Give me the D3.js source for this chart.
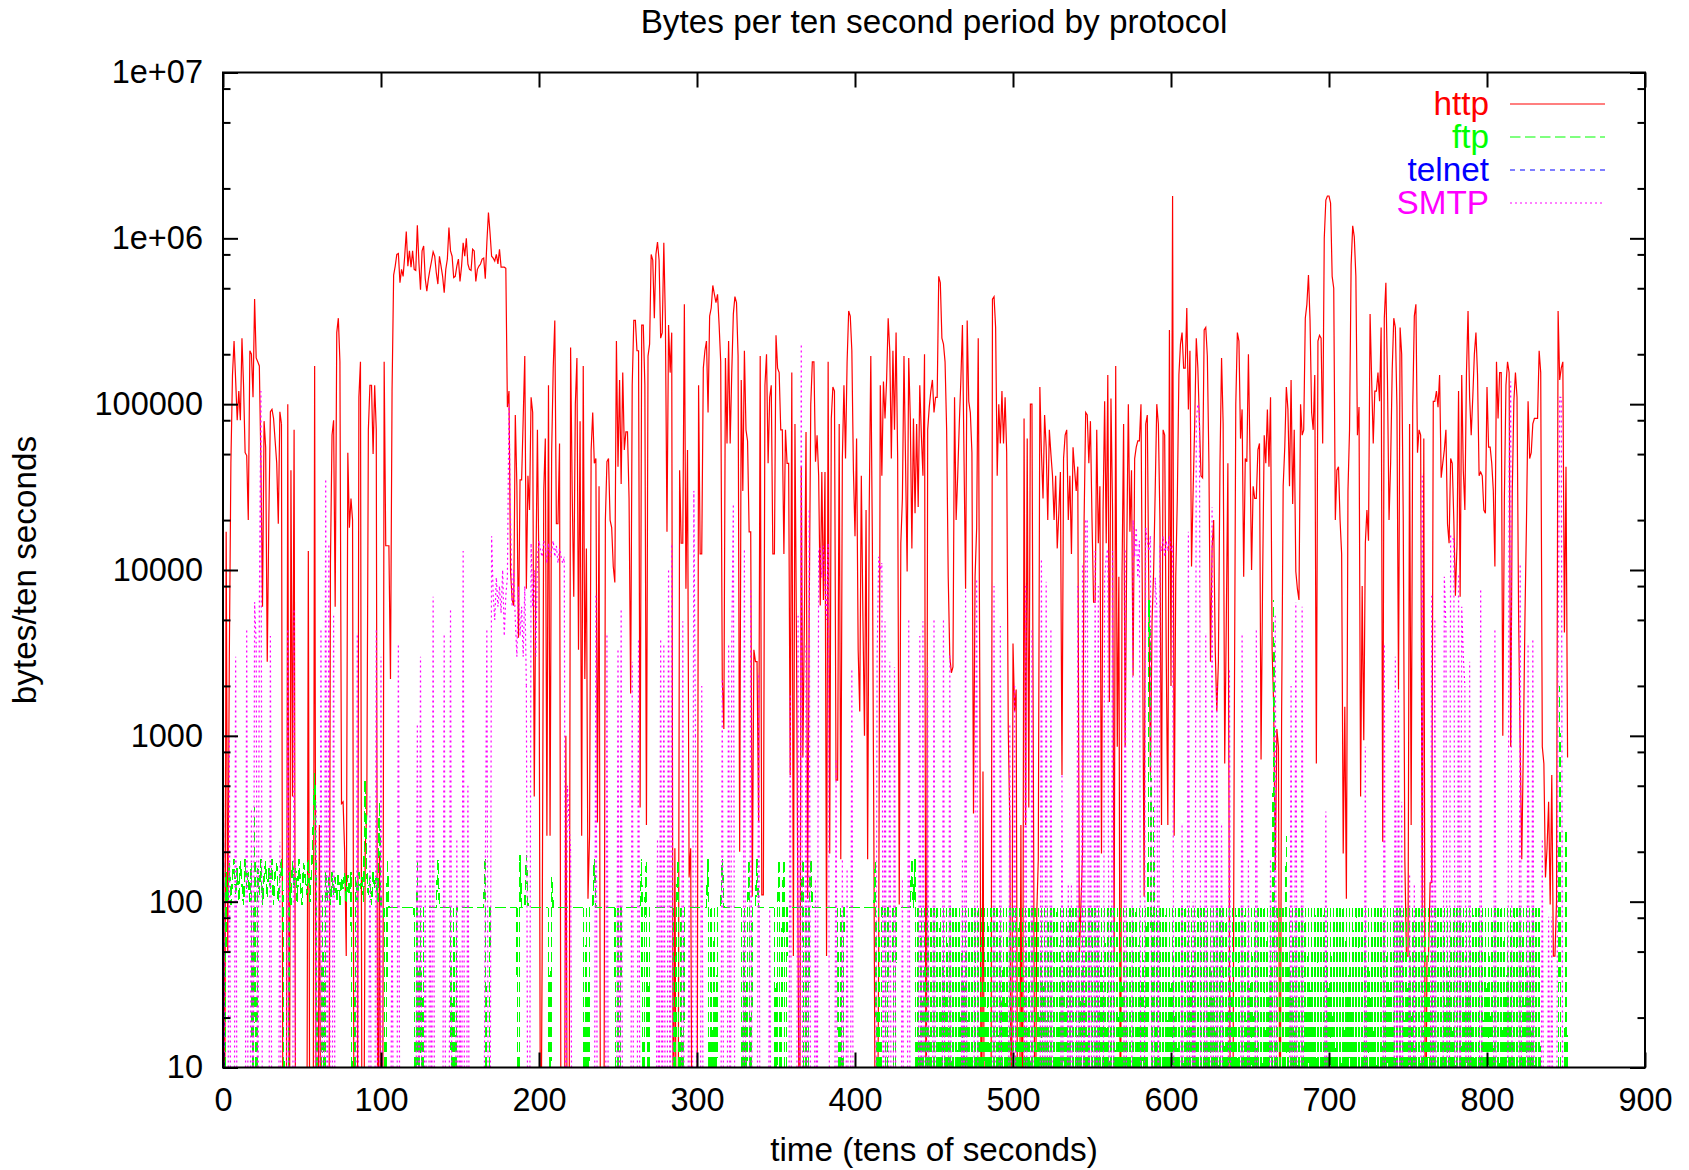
<!DOCTYPE html>
<html>
<head>
<meta charset="utf-8">
<script src="https://cdn.jsdelivr.net/npm/d3@7"></script>
<style>
  html, body { margin: 0; padding: 0; background: #fff; }
  svg { display: block; }
</style>
</head>
<body>
<svg id="chart" width="1689" height="1170"></svg>
<script>
// Bytes per ten-second period, one value per period (index = time in tens of seconds).
// Values below the axis floor (10) are stored as 1.
const httpBytes = [
  /*   0 */ 8e3, 1, 1.7e4, 50, 3e3, 4.4e4, 1.5e5, 2.4e5, 1.4e5, 8e4,
  /*  10 */ 1.2e5, 8e4, 2.5e5, 1.3e5, 5.1e4, 4.9e4, 2e4, 2.1e5, 2e5, 1.1e5,
  /*  20 */ 4.3e5, 1.9e5, 1.8e5, 1.7e5, 4.4e4, 6e3, 7.9e4, 5.5e4, 2.8e3, 2e4,
  /*  30 */ 9e4, 9.3e4, 8.2e4, 6e4, 4.4e4, 1.9e4, 9e4, 7.6e4, 1, 1,
  /*  40 */ 1, 1e5, 1, 4e4, 430, 7e4, 1, 1, 1, 1,
  /*  50 */ 1, 1, 1, 1, 1.3e4, 1, 1, 1, 1.7e5, 1,
  /*  60 */ 1, 290, 1, 1, 1, 1, 1, 1, 1.1e4, 6.5e4,
  /*  70 */ 8e4, 6e3, 2.7e5, 3.3e5, 1.8e5, 390, 400, 200, 47, 5.1e4,
  /*  80 */ 1.8e4, 2.7e4, 2e4, 1, 1, 1, 1.1e5, 1.8e5, 1, 1,
  /*  90 */ 210, 340, 7e4, 1.3e5, 1.3e5, 5e4, 1.3e5, 7e4, 1, 195,
  /* 100 */ 1, 1, 1.8e5, 1.4e4, 1.4e4, 1.4e4, 2.2e3, 1.2e5, 6e5, 6.8e5,
  /* 110 */ 8e5, 8.1e5, 5.4e5, 6.5e5, 5.9e5, 7.8e5, 1.1e6, 6.8e5, 8.4e5, 6.7e5,
  /* 120 */ 8.4e5, 6.5e5, 6.4e5, 1.2e6, 7.1e5, 4.9e5, 8.4e5, 9e5, 5.7e5, 4.8e5,
  /* 130 */ 5.7e5, 6.5e5, 7.3e5, 8.3e5, 7.8e5, 6.2e5, 5.3e5, 7.8e5, 6.8e5, 5.9e5,
  /* 140 */ 4.7e5, 6.5e5, 7.5e5, 1.16e6, 8.4e5, 7.8e5, 5.8e5, 5.9e5, 6.8e5, 7.5e5,
  /* 150 */ 5.5e5, 6.8e5, 9.4e5, 7.8e5, 1e6, 7e5, 6.5e5, 6.4e5, 8.6e5, 8.4e5,
  /* 160 */ 5.5e5, 6.5e5, 6.8e5, 7e5, 7.5e5, 7.6e5, 5.7e5, 9.4e5, 1.43e6, 1.08e6,
  /* 170 */ 7.8e5, 7.6e5, 7.3e5, 8e5, 7e5, 8.6e5, 6.7e5, 6.7e5, 6.7e5, 6.6e5,
  /* 180 */ 9.6e4, 1.2e5, 9.8e3, 6.6e3, 6.1e3, 8.6e4, 3.2e4, 3.9e3, 3.5e4, 3.5e4,
  /* 190 */ 8.2e4, 1.95e5, 7.7e3, 3.7e4, 2.3e4, 1.1e5, 8.9e4, 430, 9e3, 7e4,
  /* 200 */ 9e3, 1, 47, 3e4, 6.2e4, 250, 1.3e5, 250, 5.1e4, 1.65e5,
  /* 210 */ 3.2e5, 1.9e4, 1.9e4, 5.8e4, 1, 1, 1, 1e3, 1, 1,
  /* 220 */ 2.2e5, 3e4, 6.9e3, 1e5, 1.9e5, 3.3e3, 7.9e4, 250, 1.7e5, 2.2e3,
  /* 230 */ 1.35e4, 104, 250, 5.3e4, 8.9e4, 4.4e4, 4.7e4, 300, 3.2e4, 1,
  /* 240 */ 1, 1, 2e4, 4.5e4, 4.7e4, 2e4, 1.8e4, 1.05e4, 8.4e3, 2.4e5,
  /* 250 */ 4.2e4, 1.4e5, 3.3e4, 1.55e5, 5.3e4, 6.8e4, 6.8e4, 2.7e4, 1.8e3, 1.3e5,
  /* 260 */ 3.2e5, 3.2e5, 2.1e5, 2.1e5, 370, 3e5, 3e5, 1.3e5, 290, 1.95e5,
  /* 270 */ 2.3e5, 8e5, 7.4e5, 3.3e5, 8e5, 9.5e5, 7.4e5, 2.5e5, 2.7e5, 9.4e5,
  /* 280 */ 3.2e5, 1.7e4, 3e5, 1.55e5, 2.7e5, 1, 210, 1, 1, 4e4,
  /* 290 */ 1.45e4, 1.45e4, 4e5, 7.7e3, 5.3e4, 140, 210, 1, 1, 1,
  /* 300 */ 1, 1.3e5, 1.25e4, 1.25e4, 1.65e5, 2.1e5, 2.4e5, 8.9e4, 3.4e5, 3.8e5,
  /* 310 */ 5.2e5, 4.6e5, 4.1e5, 4.6e5, 3e5, 1.8e5, 2.2e3, 1.1e3, 1.9e5, 5.8e4,
  /* 320 */ 2.4e5, 5.8e4, 1.55e5, 3.5e5, 4.45e5, 4.1e5, 1.95e5, 200, 1.4e5, 3e4,
  /* 330 */ 2.1e5, 7e4, 6e4, 1.7e4, 1.7e4, 107, 3.3e3, 2.8e3, 2.8e3, 300,
  /* 340 */ 1.95e5, 110, 110, 1.3e5, 2e5, 4.4e4, 1.1e5, 1.3e5, 1.25e4, 1.25e4,
  /* 350 */ 2.6e5, 1.65e5, 1.55e5, 7e4, 7e4, 1.25e4, 7e4, 4.4e4, 4.4e4, 580,
  /* 360 */ 1.55e5, 47, 7.6e4, 3.3e3, 47, 1, 4.2e4, 740, 5.3e3, 6.8e4,
  /* 370 */ 104, 5.3e3, 1e5, 1.8e5, 1.8e5, 4.5e4, 6.5e4, 3.7e4, 6.1e3, 3.9e4,
  /* 380 */ 6.6e3, 3.9e4, 47, 1.8e5, 195, 8.2e4, 1.27e5, 1.2e5, 540, 540,
  /* 390 */ 7.6e4, 180, 4.7e4, 1.3e5, 4.7e4, 1.8e5, 3.65e5, 3.4e5, 2.1e5, 4e4,
  /* 400 */ 1.6e4, 6.2e4, 3.3e3, 1.4e3, 3.7e4, 5.3e3, 1e3, 2.3e4, 180, 2.3e4,
  /* 410 */ 1.95e5, 1.45e4, 180, 1, 1, 50, 1.3e5, 3.7e4, 1.37e5, 8.2e4,
  /* 420 */ 1.4e5, 3.3e5, 2.1e5, 4.7e4, 2.1e5, 7e4, 2.7e5, 4.7e4, 96, 1.45e4,
  /* 430 */ 2.7e4, 1.95e5, 4.4e4, 9.8e3, 1.9e5, 8.2e4, 1.35e4, 8.2e4, 2.2e4, 7.6e4,
  /* 440 */ 2.4e4, 1.3e5, 6.5e4, 3.7e4, 2e5, 1, 7e4, 9.6e4, 1.2e5, 1.4e5,
  /* 450 */ 8.9e4, 1.1e5, 1.1e5, 5.9e5, 5.4e5, 2.5e5, 2.3e5, 1.8e5, 7e4, 9.1e3,
  /* 460 */ 3e3, 2.4e3, 2.6e3, 1.1e5, 2e4, 3.7e4, 7.6e4, 1.4e5, 3e5, 4.7e4,
  /* 470 */ 7.7e3, 3.2e5, 1.04e5, 8.9e4, 5.1e4, 340, 9.1e3, 1.8e4, 2.5e5, 1.9e3,
  /* 480 */ 1, 610, 1, 1, 1, 1, 1, 4.3e5, 4.45e5, 2.9e5,
  /* 490 */ 3.7e4, 1e5, 5.8e4, 1.2e5, 5.8e4, 1.1e5, 5.1e4, 1.1e3, 290, 1,
  /* 500 */ 3.6e3, 1.4e3, 1.9e3, 1, 1, 290, 1, 8.2e4, 290, 6.2e4,
  /* 510 */ 370, 1e5, 1e5, 340, 1, 81, 180, 1.27e5, 5.1e4, 2.7e4,
  /* 520 */ 8.6e4, 5.5e4, 2e4, 7e4, 5e4, 3.7e4, 2e4, 3.7e4, 1.35e4, 2.2e4,
  /* 530 */ 3.9e4, 580, 4.7e4, 6.5e4, 7e4, 2e4, 3.7e4, 1.25e4, 5.5e4, 4e4,
  /* 540 */ 3e4, 4.2e4, 47, 96, 195, 2e4, 8.9e4, 8.6e4, 4.4e4, 7.9e4,
  /* 550 */ 2e4, 6.4e3, 6.4e3, 7e4, 1.45e4, 3.2e4, 195, 2.3e4, 1.04e5, 1.45e4,
  /* 560 */ 1.5e5, 1.6e3, 1.08e5, 2.3e4, 47, 1.7e5, 860, 9.1e3, 1, 9.1e3,
  /* 570 */ 7.6e4, 860, 1.35e4, 1e5, 1.7e4, 4e4, 2.3e3, 4.7e4, 5.5e4, 6e4,
  /* 580 */ 6e4, 1e5, 4.2e3, 107, 7.6e4, 8.6e4, 6.6e3, 580, 4.9e3, 9.8e3,
  /* 590 */ 3e4, 1e5, 7.6e4, 2e4, 290, 7e4, 6.5e4, 3e3, 290, 2.8e5,
  /* 600 */ 2e3, 1.8e6, 250, 9.1e3, 2.7e4, 1.5e5, 2.3e5, 2.7e5, 1.65e5, 1.65e5,
  /* 610 */ 3.8e5, 9.3e4, 2.1e5, 1.05e4, 3e4, 7.6e4, 2.5e5, 1.65e5, 7.6e4, 3.7e4,
  /* 620 */ 3.6e4, 2.8e5, 2.9e5, 1.95e5, 4.4e4, 2.8e3, 1.35e4, 2e4, 3.3e3, 1.4e3,
  /* 630 */ 2.8e3, 4.4e4, 1.9e5, 7.6e4, 680, 4.9e3, 4.4e4, 47, 1, 1,
  /* 640 */ 860, 1e5, 2.7e5, 2.4e5, 6.2e4, 9.3e4, 9.1e3, 4.7e4, 4.5e4, 2e5,
  /* 650 */ 4.9e4, 1e4, 3.2e4, 2.7e4, 2.7e4, 5.3e4, 5.8e4, 720, 9.1e3, 6.5e4,
  /* 660 */ 4.4e4, 9.3e4, 4.2e4, 1.1e5, 3.3e3, 1.5e3, 155, 1.1e3, 860, 1,
  /* 670 */ 1.3e3, 3.2e4, 5.5e4, 1.27e5, 9.3e4, 3.2e4, 1.4e5, 2.5e4, 7e4, 9.8e3,
  /* 680 */ 7.7e3, 6.6e3, 1e5, 6.5e4, 7e4, 3.3e5, 4e5, 6e5, 3.2e5, 8.9e4,
  /* 690 */ 7e4, 1.5e5, 680, 2.4e5, 2.6e5, 2.5e5, 5.8e4, 1e6, 1.7e6, 1.8e6,
  /* 700 */ 1.8e6, 1.63e6, 5.9e5, 5e5, 2e4, 4e4, 4.2e4, 2e4, 1.25e4, 195,
  /* 710 */ 1.5e3, 104, 3e4, 7e4, 6.9e5, 1.19e6, 1.02e6, 5.9e5, 6.5e4, 9.6e4,
  /* 720 */ 430, 8e3, 940, 1.45e4, 2.3e4, 1.5e4, 3.5e5, 1.4e5, 5.8e4, 1.2e5,
  /* 730 */ 1.2e5, 1.55e5, 1.04e5, 2.9e5, 230, 3.3e5, 5.4e5, 1.4e5, 2e4, 4.4e4,
  /* 740 */ 1.6e5, 3.3e5, 2.9e5, 9.6e4, 1.9e3, 2.9e5, 2e5, 2e4, 180, 47,
  /* 750 */ 47, 7.6e4, 290, 9.6e4, 3.4e5, 4e5, 5.1e4, 7e4, 6.5e4, 90,
  /* 760 */ 6.2e4, 1, 47, 47, 130, 130, 1.04e5, 1.04e5, 1.2e5, 9.6e4,
  /* 770 */ 1.5e5, 3.6e4, 4.4e4, 5.3e4, 7e4, 1.9e4, 1.45e4, 4.7e4, 4.4e4, 2e4,
  /* 780 */ 7e3, 1.4e4, 1.2e5, 6.9e3, 1.5e5, 4e4, 2.3e4, 1.55e5, 3.65e5, 1.1e5,
  /* 790 */ 6.5e4, 1.1e5, 2e5, 2.7e5, 1.5e5, 3.7e4, 3.9e4, 3.7e4, 2.3e4, 2.2e4,
  /* 800 */ 1.27e5, 5.5e4, 5.5e4, 4.4e4, 3e4, 1.05e4, 1.8e5, 8.2e4, 1.55e5, 1.55e5,
  /* 810 */ 1e3, 2.7e4, 1.3e5, 1.8e5, 1.55e5, 860, 3e4, 1.04e5, 1.55e5, 1.1e5,
  /* 820 */ 5.3e3, 860, 180, 860, 5e3, 2e4, 1.04e5, 4.7e4, 5.1e4, 7.6e4,
  /* 830 */ 8.2e4, 8.2e4, 8.2e4, 2.1e5, 1.55e5, 860, 680, 140, 210, 400,
  /* 840 */ 96, 580, 47, 47, 100, 3.65e5, 1.4e5, 1.65e5, 1.8e5, 4.2e3,
  /* 850 */ 4.2e4, 740
];

const ftpBytes = [
  /*   0 */ 1, 1, 150, 100, 170, 95, 140, 180, 110, 160,
  /*  10 */ 100, 175, 130, 95, 180, 120, 150, 100, 170, 1,
  /*  20 */ 370, 1, 160, 110, 180, 95, 140, 175, 105, 160,
  /*  30 */ 120, 180, 95, 150, 170, 100, 140, 180, 110, 1,
  /*  40 */ 1, 1, 150, 95, 175, 120, 160, 100, 180, 130,
  /*  50 */ 95, 170, 140, 110, 180, 100, 150, 260, 600, 130,
  /*  60 */ 1, 1, 1, 110, 1, 150, 100, 140, 95, 150,
  /*  70 */ 110, 140, 100, 150, 95, 140, 120, 150, 100, 145,
  /*  80 */ 110, 150, 1, 1, 140, 100, 150, 120, 140, 100,
  /*  90 */ 540, 150, 110, 140, 95, 150, 120, 140, 100, 400,
  /* 100 */ 92, 92, 92, 1, 180, 92, 92, 92, 92, 92,
  /* 110 */ 92, 92, 92, 92, 92, 92, 92, 92, 92, 92,
  /* 120 */ 92, 92, 1, 180, 1, 92, 1, 92, 92, 92,
  /* 130 */ 92, 92, 92, 92, 92, 92, 180, 92, 92, 92,
  /* 140 */ 92, 92, 92, 92, 92, 1, 92, 1, 92, 92,
  /* 150 */ 92, 92, 92, 92, 92, 92, 92, 92, 92, 92,
  /* 160 */ 92, 92, 92, 92, 92, 92, 180, 1, 1, 92,
  /* 170 */ 92, 92, 92, 92, 92, 92, 92, 92, 92, 92,
  /* 180 */ 92, 92, 92, 92, 92, 92, 92, 1, 190, 92,
  /* 190 */ 92, 92, 190, 92, 92, 92, 92, 92, 92, 92,
  /* 200 */ 92, 92, 92, 92, 92, 92, 92, 1, 140, 92,
  /* 210 */ 92, 92, 92, 92, 92, 92, 92, 92, 92, 92,
  /* 220 */ 92, 92, 92, 92, 92, 92, 92, 92, 92, 1,
  /* 230 */ 92, 1, 92, 92, 92, 180, 92, 92, 92, 92,
  /* 240 */ 92, 92, 92, 92, 92, 92, 92, 92, 92, 1,
  /* 250 */ 92, 1, 92, 92, 92, 92, 92, 92, 92, 92,
  /* 260 */ 92, 92, 92, 92, 92, 180, 1, 92, 180, 1,
  /* 270 */ 92, 92, 92, 92, 92, 92, 92, 92, 92, 92,
  /* 280 */ 92, 92, 92, 92, 92, 92, 1, 92, 180, 1,
  /* 290 */ 92, 1, 92, 92, 92, 92, 92, 92, 92, 92,
  /* 300 */ 92, 92, 92, 92, 92, 92, 92, 180, 1, 92,
  /* 310 */ 1, 92, 1, 92, 92, 92, 180, 92, 92, 92,
  /* 320 */ 92, 92, 92, 92, 92, 92, 92, 92, 92, 1,
  /* 330 */ 92, 1, 92, 180, 1, 92, 92, 92, 180, 92,
  /* 340 */ 92, 92, 92, 92, 92, 92, 92, 92, 92, 92,
  /* 350 */ 1, 92, 180, 1, 92, 180, 1, 92, 92, 92,
  /* 360 */ 92, 92, 92, 92, 92, 92, 92, 180, 1, 92,
  /* 370 */ 1, 92, 180, 92, 92, 92, 92, 92, 92, 92,
  /* 380 */ 92, 92, 92, 92, 92, 92, 92, 92, 92, 92,
  /* 390 */ 1, 92, 1, 92, 92, 92, 92, 92, 92, 92,
  /* 400 */ 92, 92, 92, 92, 92, 92, 92, 92, 92, 92,
  /* 410 */ 92, 92, 92, 180, 1, 92, 1, 92, 92, 92,
  /* 420 */ 1, 92, 92, 92, 92, 1, 92, 92, 92, 92,
  /* 430 */ 92, 92, 92, 92, 92, 92, 180, 92, 180, 1,
  /* 440 */ 92, 1, 92, 1, 92, 1, 92, 1, 92, 1,
  /* 450 */ 92, 1, 92, 1, 92, 1, 92, 1, 92, 1,
  /* 460 */ 92, 1, 92, 1, 92, 1, 92, 1, 92, 1,
  /* 470 */ 92, 1, 92, 1, 92, 1, 92, 1, 92, 1,
  /* 480 */ 92, 1, 92, 1, 92, 1, 92, 1, 92, 1,
  /* 490 */ 92, 1, 92, 1, 92, 1, 92, 1, 92, 1,
  /* 500 */ 92, 1, 92, 1, 92, 1, 92, 1, 92, 1,
  /* 510 */ 92, 1, 92, 1, 92, 1, 92, 1, 92, 1,
  /* 520 */ 92, 1, 92, 1, 92, 1, 92, 1, 92, 1,
  /* 530 */ 92, 1, 92, 1, 92, 1, 92, 1, 92, 1,
  /* 540 */ 92, 1, 92, 1, 92, 1, 92, 1, 92, 1,
  /* 550 */ 92, 1, 92, 1, 92, 1, 92, 1, 92, 1,
  /* 560 */ 92, 1, 92, 1, 92, 1, 92, 1, 92, 1,
  /* 570 */ 92, 1, 92, 1, 92, 1, 92, 1, 92, 1,
  /* 580 */ 92, 1, 92, 1, 92, 1, 6.6e3, 3.3e3, 1, 370,
  /* 590 */ 1, 92, 1, 92, 1, 92, 1, 92, 1, 92,
  /* 600 */ 1, 92, 1, 92, 1, 92, 1, 92, 1, 92,
  /* 610 */ 1, 92, 1, 92, 1, 92, 1, 92, 1, 92,
  /* 620 */ 1, 92, 1, 92, 1, 92, 1, 92, 1, 92,
  /* 630 */ 1, 92, 1, 92, 1, 92, 1, 92, 1, 92,
  /* 640 */ 1, 92, 1, 92, 1, 92, 1, 92, 1, 92,
  /* 650 */ 1, 92, 1, 92, 1, 92, 1, 92, 1, 92,
  /* 660 */ 1, 92, 1, 92, 1, 6.6e3, 1, 92, 1, 92,
  /* 670 */ 1, 92, 1, 250, 1, 92, 1, 92, 1, 92,
  /* 680 */ 1, 92, 1, 92, 1, 92, 1, 92, 1, 92,
  /* 690 */ 1, 92, 1, 92, 1, 92, 1, 92, 1, 92,
  /* 700 */ 1, 92, 1, 92, 1, 92, 1, 92, 1, 92,
  /* 710 */ 1, 92, 1, 92, 1, 92, 1, 92, 1, 92,
  /* 720 */ 1, 92, 1, 92, 1, 92, 1, 92, 1, 92,
  /* 730 */ 1, 92, 1, 92, 1, 92, 1, 92, 1, 92,
  /* 740 */ 1, 92, 1, 92, 1, 92, 1, 92, 1, 92,
  /* 750 */ 1, 92, 1, 92, 1, 92, 1, 92, 1, 92,
  /* 760 */ 1, 92, 1, 92, 1, 92, 1, 92, 1, 92,
  /* 770 */ 1, 92, 1, 92, 1, 92, 1, 92, 1, 92,
  /* 780 */ 1, 92, 1, 92, 1, 92, 1, 92, 1, 92,
  /* 790 */ 1, 92, 1, 92, 1, 92, 1, 92, 1, 92,
  /* 800 */ 1, 92, 1, 92, 1, 92, 1, 92, 1, 92,
  /* 810 */ 1, 92, 1, 92, 1, 92, 1, 92, 1, 92,
  /* 820 */ 1, 92, 1, 92, 1, 92, 1, 92, 1, 92,
  /* 830 */ 1, 92, 1, 92, 1, 1, 1, 1, 1, 1,
  /* 840 */ 1, 1, 1, 1, 1, 1, 2e3, 1, 1, 1,
  /* 850 */ 280, 1, 1
];

const telnetBytes = [4200, 1];

const smtpBytes = [
  /*   0 */ 6e3, 1, 1, 1, 1e3, 1, 1, 1, 3e3, 1,
  /*  10 */ 1, 1, 1, 1, 1, 4.5e3, 1, 1, 370, 1,
  /*  20 */ 6.4e3, 3.6e3, 1, 6e3, 1.2e5, 1, 1, 1, 1, 1,
  /*  30 */ 4e3, 1, 1, 1, 1, 1, 230, 1, 1, 1,
  /*  40 */ 1, 4.5e3, 1, 1, 1, 5.7e3, 1, 1, 1, 1,
  /*  50 */ 1, 1, 1, 1, 1, 1, 1, 1, 1, 400,
  /*  60 */ 1, 1, 4.5e3, 1, 1, 3.6e4, 1, 1.45e4, 1, 1,
  /*  70 */ 5.3e3, 1, 1, 1, 1, 1, 1, 1, 1, 1,
  /*  80 */ 1, 1, 1, 1, 1, 4.2e3, 1, 1, 1, 1,
  /*  90 */ 1, 1, 1, 430, 1, 1, 1, 4.5e3, 1, 1,
  /* 100 */ 3e3, 1, 1, 1, 1, 1, 1, 180, 1, 1,
  /* 110 */ 1, 3.6e3, 1, 1, 1, 1, 1, 1, 1, 1,
  /* 120 */ 1, 1, 1, 1.2e3, 1, 3e3, 1, 1, 130, 1,
  /* 130 */ 1, 370, 1, 6.9e3, 1, 1, 1, 1, 1, 1,
  /* 140 */ 4.2e3, 1, 1, 1, 5.7e3, 1, 1, 1, 240, 1,
  /* 150 */ 50, 1, 1.3e4, 1, 1, 500, 1, 1, 1, 1,
  /* 160 */ 1, 1, 1, 1, 1, 1, 130, 4.5e3, 1, 1,
  /* 170 */ 1.6e4, 7e3, 5e3, 9e3, 6e3, 8e3, 5.5e3, 1e4, 4e3, 7e3,
  /* 180 */ 9e3, 1e5, 2e4, 6e3, 1e4, 5e3, 3e3, 8e3, 4e3, 6e3,
  /* 190 */ 3e3, 8e3, 2e3, 1, 1, 1.45e4, 6e3, 1e4, 3e3, 1.2e4,
  /* 200 */ 1.5e4, 1.3e4, 1.2e4, 1.5e4, 1.4e4, 1.1e4, 1.45e4, 1.2e4, 1.3e4, 1.5e4,
  /* 210 */ 1.2e4, 1.4e4, 1.1e4, 1.35e4, 1.2e4, 1.1e4, 1.2e4, 1, 500, 300,
  /* 220 */ 200, 1, 1, 1, 1, 1, 1, 1, 1, 1,
  /* 230 */ 1, 1, 1, 1, 1, 1, 7e3, 1, 1, 1,
  /* 240 */ 1, 1, 1, 4.2e3, 1, 1, 1, 1, 1, 1,
  /* 250 */ 3.3e3, 1, 5.7e3, 1, 1, 1, 1, 1, 1, 2.8e3,
  /* 260 */ 1, 1, 1, 3.9e3, 1, 1, 1, 1, 1, 1,
  /* 270 */ 1, 1, 1, 1, 1, 240, 1, 3.9e3, 1, 3.6e3,
  /* 280 */ 1, 1, 1e4, 1, 1.45e4, 1, 1, 1, 1, 1,
  /* 290 */ 1, 4.9e3, 1, 1, 1, 140, 1, 1, 3e4, 1e3,
  /* 300 */ 1, 1, 1, 2e3, 1, 1, 1, 1, 1, 1,
  /* 310 */ 1, 1, 1, 1, 1, 1, 2.2e3, 1, 1, 1,
  /* 320 */ 3.6e3, 1, 3.6e3, 2.5e4, 1, 1, 1, 1, 1, 1,
  /* 330 */ 1.35e4, 1, 1, 1, 7.7e3, 1, 1, 1, 1, 2.4e3,
  /* 340 */ 1, 1, 1, 1, 1, 1, 90, 1, 1, 1,
  /* 350 */ 1, 1, 1, 1, 1, 1, 1, 1, 1, 1.8e3,
  /* 360 */ 1, 1, 1, 1, 5.3e3, 1, 2.3e5, 1, 1, 3.6e3,
  /* 370 */ 1, 2.3e4, 1, 1, 1, 140, 1, 1.35e4, 1.35e4, 9e3,
  /* 380 */ 1.4e4, 8e3, 5e3, 1.45e4, 1, 1, 1, 1, 740, 1,
  /* 390 */ 1, 1, 180, 1, 1, 160, 1, 1, 2.5e3, 1,
  /* 400 */ 1, 1, 1, 1, 1, 1, 1, 1, 1, 1,
  /* 410 */ 1, 1, 1, 1, 3e3, 1.2e4, 1e4, 1.1e4, 1, 4.9e3,
  /* 420 */ 1, 1, 2.8e3, 1, 1, 2.6e3, 1, 1, 1, 1,
  /* 430 */ 140, 1, 1, 1, 5e3, 1, 1, 1, 1, 1,
  /* 440 */ 1, 4e3, 1, 4.9e3, 1, 1, 2.6e3, 1, 1, 1,
  /* 450 */ 5e3, 1, 1, 1, 1, 1, 5e3, 1, 1, 1,
  /* 460 */ 3.1e3, 1, 1, 1, 1, 1, 1, 1, 180, 1,
  /* 470 */ 7.7e3, 1, 1, 1, 1, 1, 300, 9e3, 1, 1,
  /* 480 */ 1, 1, 1, 1, 1, 1, 1, 1, 8e3, 1,
  /* 490 */ 1, 1, 4.6e3, 1, 1, 1, 1, 1, 1.2e3, 1,
  /* 500 */ 1, 2e3, 1, 1, 1, 1, 1, 1, 8e3, 1,
  /* 510 */ 1, 1, 4.5e3, 1, 1, 1, 1, 1, 1.15e4, 1,
  /* 520 */ 1, 8.5e3, 1, 1, 4.5e3, 1, 1, 1, 1, 1,
  /* 530 */ 1, 600, 1, 1, 1, 130, 1, 130, 1, 1,
  /* 540 */ 1, 8e3, 1, 1, 1.1e4, 1, 2e4, 2e4, 1, 1.4e3,
  /* 550 */ 1, 1, 1.3e4, 1, 8e3, 1, 1, 1, 9e3, 1.2e4,
  /* 560 */ 1.35e4, 1, 1, 1.3e4, 1, 1, 1, 1, 1, 1,
  /* 570 */ 1, 1.35e4, 1, 1, 1, 1, 2e4, 1.2e4, 1.8e4, 9e3,
  /* 580 */ 1.5e4, 1, 1, 1, 1.8e4, 1.5e4, 1.3e4, 1.6e4, 1, 1,
  /* 590 */ 9e3, 6e3, 1, 1.4e4, 1.3e4, 1.6e4, 1.2e4, 1.5e4, 1.3e4, 1.6e4,
  /* 600 */ 1.3e4, 1.4e4, 1, 1, 1, 1, 1, 300, 1, 1,
  /* 610 */ 1, 1.7e4, 1, 1, 100, 1, 8e4, 1e5, 9e4, 1,
  /* 620 */ 1, 1, 4.2e3, 1, 1, 1, 2.4e4, 1, 1, 2e3,
  /* 630 */ 1, 1, 300, 1, 1, 1, 1, 2.5e3, 1, 1,
  /* 640 */ 1, 1, 1, 1, 1, 4.2e3, 1, 1, 1, 180,
  /* 650 */ 1, 1, 1, 1, 4.5e3, 1, 1, 1, 1, 1,
  /* 660 */ 1, 1, 1, 180, 1, 1, 5.3e3, 1, 1, 1,
  /* 670 */ 1, 1, 1, 1, 1, 1, 2e3, 1, 1, 6.4e3,
  /* 680 */ 1, 1, 1, 6e3, 1, 1, 1, 1, 1, 1,
  /* 690 */ 1, 1, 1, 1, 1, 1, 1, 1, 350, 1,
  /* 700 */ 1, 1, 1, 1, 1, 1, 1, 1, 1, 1,
  /* 710 */ 1, 1, 1, 1, 1, 1, 1, 1, 1, 1,
  /* 720 */ 1, 1, 1, 860, 1, 1, 1, 1, 1, 1,
  /* 730 */ 1, 1, 1, 1, 1, 3.6e3, 1, 1, 1, 1,
  /* 740 */ 1, 1, 3e3, 1, 1.9e3, 1, 400, 1, 1, 1,
  /* 750 */ 1, 150, 1, 1, 130, 1, 1, 1, 1, 3.7e4,
  /* 760 */ 1, 1, 1, 1, 1, 7e3, 1, 5e3, 1, 1,
  /* 770 */ 1, 1, 1, 9.1e3, 4.5e3, 1, 1, 1.6e4, 1.6e4, 1.5e4,
  /* 780 */ 1, 1, 9.5e3, 1, 6e3, 3e3, 2e3, 1, 1, 2.8e3,
  /* 790 */ 1, 1, 1, 1, 1, 1, 7.7e3, 1, 1, 1,
  /* 800 */ 1, 1, 1, 1, 1, 4.5e3, 1, 1, 1, 1,
  /* 810 */ 1, 1, 1, 1, 4e4, 1.37e5, 1, 1, 1, 1,
  /* 820 */ 1, 1.1e4, 1, 1, 1, 1, 3.5e3, 1, 1, 3.9e3,
  /* 830 */ 1, 1, 1, 1, 1, 240, 1, 1, 1, 81,
  /* 840 */ 1, 81, 1, 1, 1, 2.7e3, 1.1e5, 1.1e5, 1, 1,
  /* 850 */ 1, 1, 1
];

const protocolNames = ["http", "ftp", "telnet", "SMTP"];
const xTickValues = [0, 100, 200, 300, 400, 500, 600, 700, 800, 900];
const yTickValues = [10, 100, 1000, 10000, 100000, 1e6, 1e7];
const yTickLabels = ["10", "100", "1000", "10000", "100000", "1e+06", "1e+07"];
const yMinorSteps = [2, 5, 8];
const titleText = "Bytes per ten second period by protocol";
const xLabelText = "time (tens of seconds)";
const yLabelText = "bytes/ten seconds";

// ---- layout and drawing ----
const FONT = '"Liberation Sans", Arial, Helvetica, sans-serif';
const FS_TICK = 32.5;
const FS_TEXT = 33.3;
const box = { left: 223, right: 1645, top: 72.5, bottom: 1067.5 };
const Y_FLOOR = 10;

const svg = d3.select("#chart");
svg.append("rect").attr("width", 1689).attr("height", 1170).attr("fill", "#fff");

const x = d3.scaleLinear().domain([0, 900]).range([box.left, box.right]);
const y = d3.scaleLog().domain([Y_FLOOR, 1e7]).range([box.bottom, box.top]);

svg.append("defs").append("clipPath").attr("id", "plotArea")
  .append("rect")
  .attr("x", box.left).attr("y", box.top)
  .attr("width", box.right - box.left).attr("height", box.bottom - box.top);

const seriesList = [
  { name: protocolNames[0], values: httpBytes,   color: "#ff0000", dash: null,       width: 1.2, crisp: false },
  { name: protocolNames[1], values: ftpBytes,    color: "#00ff00", dash: "10.5,4.5", width: 1.4, crisp: true },
  { name: protocolNames[2], values: telnetBytes, color: "#0000ff", dash: "5,5",      width: 1.2, crisp: false },
  { name: protocolNames[3], values: smtpBytes,   color: "#ff00ff", dash: "2,3",      width: 1.2, crisp: false }
];

// Split a series into the pieces that are visible above the axis floor.
// A segment that leaves through the floor is emitted as its own piece,
// traced upward from the floor, so every dashed stroke that touches the
// bottom edge starts its dash pattern there.
function visiblePieces(values) {
  const lg = v => Math.log10(Math.max(v, 1e-3));
  const floor = Math.log10(Y_FLOOR);
  const pieces = [];
  let cur = null;
  for (let i = 0; i < values.length; i++) {
    const v = values[i];
    if (v >= Y_FLOOR) {
      if (!cur) {
        cur = [];
        if (i > 0) {
          const a = lg(values[i - 1]), b = lg(v);
          cur.push([i - 1 + (floor - a) / (b - a), Y_FLOOR]);
        }
      }
      cur.push([i, v]);
    } else if (cur) {
      const a = lg(values[i - 1]), b = lg(v);
      const exit = [i - 1 + (a - floor) / (a - b), Y_FLOOR];
      if (cur.length > 1) pieces.push(cur);
      pieces.push([exit, [i - 1, values[i - 1]]]);
      cur = null;
    }
  }
  if (cur && cur.length > 1) pieces.push(cur);
  else if (cur) pieces.push([cur[0], cur[0]]);
  return pieces;
}

const line = d3.line()
  .x(p => x(p[0]))
  .y(p => y(p[1]));

const dataLayer = svg.append("g").attr("clip-path", "url(#plotArea)");
seriesList.forEach(s => {
  const d = visiblePieces(s.values).map(piece => line(piece)).join("");
  dataLayer.append("path")
    .attr("d", d)
    .attr("fill", "none")
    .attr("stroke", s.color)
    .attr("stroke-width", s.width)
    .attr("shape-rendering", s.crisp ? "crispEdges" : null)
    .attr("stroke-dasharray", s.dash);
});

// minor tick values on the log axis
const yMinorValues = [];
for (let e = 1; e < 7; e++) {
  yMinorSteps.forEach(m => yMinorValues.push(m * Math.pow(10, e)));
}

function styleAxis(g) {
  g.select(".domain").remove();
  g.attr("font-family", FONT).attr("font-size", FS_TICK);
  g.selectAll(".tick line").attr("stroke", "#000").attr("stroke-width", 2);
  g.selectAll(".tick text").attr("fill", "#000");
}

// bottom axis with labels
svg.append("g")
  .attr("transform", `translate(0,${box.bottom})`)
  .call(d3.axisBottom(x).tickValues(xTickValues)
    .tickSizeInner(-15).tickSizeOuter(0).tickPadding(20)
    .tickFormat(d3.format("d")))
  .call(styleAxis);

// top axis (mirror ticks)
svg.append("g")
  .attr("transform", `translate(0,${box.top})`)
  .call(d3.axisTop(x).tickValues(xTickValues)
    .tickSizeInner(-15).tickSizeOuter(0).tickFormat(""))
  .call(styleAxis);

// left axis with labels
svg.append("g")
  .attr("transform", `translate(${box.left},0)`)
  .call(d3.axisLeft(y).tickValues(yTickValues)
    .tickSizeInner(-15).tickSizeOuter(0).tickPadding(20)
    .tickFormat((d, i) => yTickLabels[i]))
  .call(styleAxis);

svg.append("g")
  .attr("transform", `translate(${box.left},0)`)
  .call(d3.axisLeft(y).tickValues(yMinorValues)
    .tickSizeInner(-7.5).tickSizeOuter(0).tickFormat(""))
  .call(styleAxis);

// right axis (mirror ticks)
svg.append("g")
  .attr("transform", `translate(${box.right},0)`)
  .call(d3.axisRight(y).tickValues(yTickValues)
    .tickSizeInner(-15).tickSizeOuter(0).tickFormat(""))
  .call(styleAxis);

svg.append("g")
  .attr("transform", `translate(${box.right},0)`)
  .call(d3.axisRight(y).tickValues(yMinorValues)
    .tickSizeInner(-7.5).tickSizeOuter(0).tickFormat(""))
  .call(styleAxis);

// plot border
svg.append("rect")
  .attr("x", box.left).attr("y", box.top)
  .attr("width", box.right - box.left).attr("height", box.bottom - box.top)
  .attr("fill", "none").attr("stroke", "#000").attr("stroke-width", 2);

// title and axis titles
svg.append("text")
  .attr("x", (box.left + box.right) / 2).attr("y", 33)
  .attr("text-anchor", "middle")
  .attr("font-family", FONT).attr("font-size", FS_TEXT).attr("fill", "#000")
  .text(titleText);

svg.append("text")
  .attr("x", (box.left + box.right) / 2).attr("y", 1161)
  .attr("text-anchor", "middle")
  .attr("font-family", FONT).attr("font-size", FS_TEXT).attr("fill", "#000")
  .text(xLabelText);

svg.append("text")
  .attr("transform", `translate(36,${(box.top + box.bottom) / 2}) rotate(-90)`)
  .attr("text-anchor", "middle")
  .attr("font-family", FONT).attr("font-size", FS_TEXT).attr("fill", "#000")
  .text(yLabelText);

// key
const key = svg.append("g");
seriesList.forEach((s, i) => {
  const rowY = 104 + i * 33;
  key.append("text")
    .attr("x", 1489).attr("y", rowY + 11)
    .attr("text-anchor", "end")
    .attr("font-family", FONT).attr("font-size", FS_TEXT)
    .attr("fill", s.color)
    .text(s.name);
  key.append("line")
    .attr("x1", 1510).attr("x2", 1605)
    .attr("y1", rowY).attr("y2", rowY)
    .attr("stroke", s.color).attr("stroke-width", 1.2)
    .attr("stroke-dasharray", s.dash);
});
</script>
</body>
</html>
